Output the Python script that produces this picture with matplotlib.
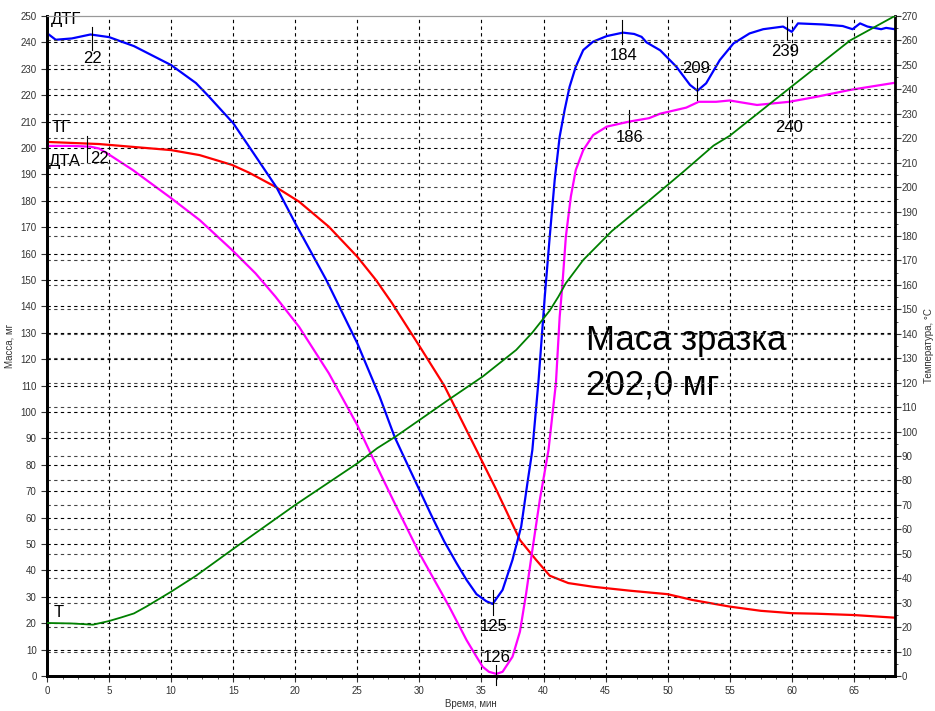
import numpy as np
import matplotlib.pyplot as plt
from matplotlib.ticker import MultipleLocator

plt.rcParams['font.family'] = ['Liberation Sans', 'DejaVu Sans']

# ДТГ (синяя)
t_dtg = [0, 0.7, 2, 3.5, 5, 7, 10, 12, 13, 15, 17, 18.5, 20, 22.5, 25, 26.8, 28, 29,
         30, 31, 32, 33, 33.8, 34.6, 35.4, 35.9, 36.7, 37.5, 38.2, 38.7, 39.1, 39.6,
         40.1, 40.5, 40.9, 41.3, 41.7, 42.1, 42.6, 43.2, 44.0, 45.1, 46.4, 47.3, 47.9,
         48.3, 49.4, 50.7, 51.8, 52.4, 53.1, 54.2, 55.3, 56.6, 57.7, 59.3, 60.0, 60.5,
         62.5, 64.1, 64.9, 65.5, 66.1, 67.2, 67.6, 68.3]
dtg = [243.5, 241, 241.5, 243, 242, 238.6, 231.4, 224.6, 219.7, 209.4, 195.5, 185, 171.5,
       150, 126, 105.8, 90.6, 80.5, 70.5, 60.5, 51, 42.7, 36.4, 31, 28.3, 27.3, 32.6, 44,
       56.6, 73, 85.6, 112, 143.7, 166.4, 187.9, 204.3, 214.4, 223.2, 230.8, 237.1, 240.3,
       242.4, 243.7, 243.2, 242.1, 240, 237, 230.8, 223.9, 221.7, 224.5, 233.3, 239.6,
       243.4, 245, 246, 244, 247.2, 246.8, 246.2, 245, 247.2, 246, 245, 245.5, 245]

# ТГ (красная)
t_tg = [0, 4.2, 10, 12.3, 14.9, 16.3, 18.4, 20.3, 22.7, 25, 26.5, 27.8, 30, 32, 34.6, 36.2,
        38.1, 39.4, 40.5, 42, 44, 47, 50, 52, 55, 57.5, 60, 62, 65, 68.3]
tg = [202.3, 201.5, 199.2, 197.3, 193.6, 190.6, 185.3, 179.7, 170.2, 158.8, 150, 141.2,
      125, 110, 85.6, 70.5, 51.5, 44, 38, 35.2, 33.8, 32.3, 31, 28.8, 26.3, 24.7, 23.8,
      23.6, 23.1, 22.1]

# ДТА (малиновая)
t_dta = [0, 2, 3.5, 4.2, 5, 6.9, 10, 12.3, 14.9, 16.8, 18.4, 20.3, 22.7, 25, 26, 28, 30,
         32.4, 33.8, 34.6, 35.1, 35.6, 36.2, 36.7, 37.5, 38.1, 38.6, 39.1, 39.7, 40.4, 41.0,
         41.3, 41.5, 41.8, 42.2, 42.6, 43.2, 44.0, 45.1, 46.9, 48.5, 49.4, 51.5, 52.5, 53.9,
         55, 57.2, 59.8, 62, 64.7, 68.3]
dta = [200.8, 200.8, 200.5, 199.8, 197.5, 191.7, 181, 172.7, 161.4, 152.5, 143.7, 132.3,
       114.7, 95, 85, 65.5, 46.5, 26.3, 13.6, 7.3, 3.5, 1.6, 0.8, 1.6, 7.3, 16.8, 31.3,
       47.7, 66.7, 85.6, 111, 136, 147, 166.4, 181.6, 191.7, 199.2, 204.9, 208.1, 210,
       211.3, 213, 215.3, 217.5, 217.5, 218, 216.3, 217.5, 219.4, 222, 224.7]

# Т, °C (зелёная)
t_t = [0, 2, 3.7, 5, 6, 7, 8, 10, 12, 15, 20, 25, 26.6, 28.1, 30, 32.4, 35.1, 37.8, 39.1,
       40.5, 41.2, 41.8, 43.2, 45.5, 48.5, 51.2, 53.7, 55, 59.8, 64.7, 68.3]
temp = [21.7, 21.5, 21, 22.5, 24, 25.6, 28.4, 34.5, 41, 52, 70, 87, 93.2, 98, 104.7, 113.2,
        122.5, 133.4, 140.5, 149.5, 155.2, 160.7, 170.2, 182, 194.5, 206, 217, 221, 240.4,
        260, 270]

# подписи пиков: (время, низ риски, верх риски, x текста, y текста, текст)
marks = [(3.6, 237, 245.8, 3.7, 234, '22'),
         (3.2, 194.7, 204.5, 4.2, 196, '22'),
         (35.9, 23, 32.6, 36.0, 18.6, '125'),
         (36.2, -3.4, 4.2, 36.2, 7.2, '126'),
         (46.3, 239.4, 248.5, 46.45, 235.2, '184'),
         (52.4, 218.2, 226.5, 52.3, 230.3, '209'),
         (59.6, 241, 250, 59.5, 236.4, '239'),
         (46.9, 207.6, 214.4, 46.9, 203.8, '186'),
         (59.8, 211.7, 222, 59.8, 207.6, '240')]

fig = plt.figure(figsize=(9.35, 7.11), dpi=100)
ax = fig.add_axes([0.0503, 0.0492, 0.9067, 0.9283])
ax2 = ax.twinx()

ax.set_xlim(0, 68.3)
ax.set_ylim(0, 250)
ax2.set_ylim(0, 270)

dash = (0, (3, 3))
for x in np.arange(5, 68, 5):
    ax.axvline(x, color='k', lw=0.8, ls=dash, zorder=0)
for y in np.arange(10, 250, 10):
    ax.axhline(y, color='k', lw=0.8, ls=dash, zorder=0)
for y in np.arange(10, 270, 10):
    ax2.axhline(y, color='#444444', lw=0.8, ls=dash, zorder=0)

ax.plot(t_tg, tg, color='red', lw=1.6, zorder=3)
ax.plot(t_dta, dta, color='magenta', lw=1.6, zorder=3)
ax.plot(t_dtg, dtg, color='blue', lw=1.6, zorder=4)
ax2.plot(t_t, temp, color='green', lw=1.3, zorder=3)

for tx, y1, y2, xt, yt, s in marks:
    ax.plot([tx, tx], [y1, y2], color='k', lw=0.8, clip_on=False, zorder=5)
    ax.text(xt, yt, s, ha='center', va='center', fontsize=12, zorder=6)

ax.text(0.3, 248.5, 'ДТГ', ha='left', va='center', fontsize=12, clip_on=False)
ax.text(0.4, 207.6, 'ТГ', ha='left', va='center', fontsize=12)
ax.text(0.15, 195, 'ДТА', ha='left', va='center', fontsize=12)
ax.text(0.5, 24, 'Т', ha='left', va='center', fontsize=12)

ax.text(43.4, 126.9, 'Маса зразка', ha='left', va='center', fontsize=25)
ax.text(43.4, 110.2, '202,0 мг', ha='left', va='center', fontsize=25)

ax.xaxis.set_major_locator(MultipleLocator(5))
ax.xaxis.set_minor_locator(MultipleLocator(1.25))
ax.yaxis.set_major_locator(MultipleLocator(10))
ax2.yaxis.set_major_locator(MultipleLocator(10))
ax2.yaxis.set_minor_locator(MultipleLocator(5))

ax.tick_params(axis='both', which='major', labelsize=7, length=4, colors='#333333')
ax.tick_params(axis='both', which='minor', length=2, colors='#333333')
ax2.tick_params(axis='y', which='major', labelsize=7, length=4, colors='#333333', pad=1)
ax2.tick_params(axis='y', which='minor', length=2, colors='#333333')

for sp in ['left', 'bottom']:
    ax.spines[sp].set_linewidth(2)
ax2.spines['right'].set_linewidth(2)
ax2.spines['left'].set_linewidth(2)
ax2.spines['bottom'].set_linewidth(2)
ax2.spines['top'].set_color('#999999')
ax.spines['top'].set_color('#999999')

ax.set_xlabel('Время, мин', fontsize=7, color='#333333', labelpad=2)
ax.set_ylabel('Масса, мг', fontsize=7, color='#333333', labelpad=4)
ax2.set_ylabel('Температура, °C', fontsize=7, color='#333333', labelpad=4)

fig.savefig('out.png', dpi=100)
